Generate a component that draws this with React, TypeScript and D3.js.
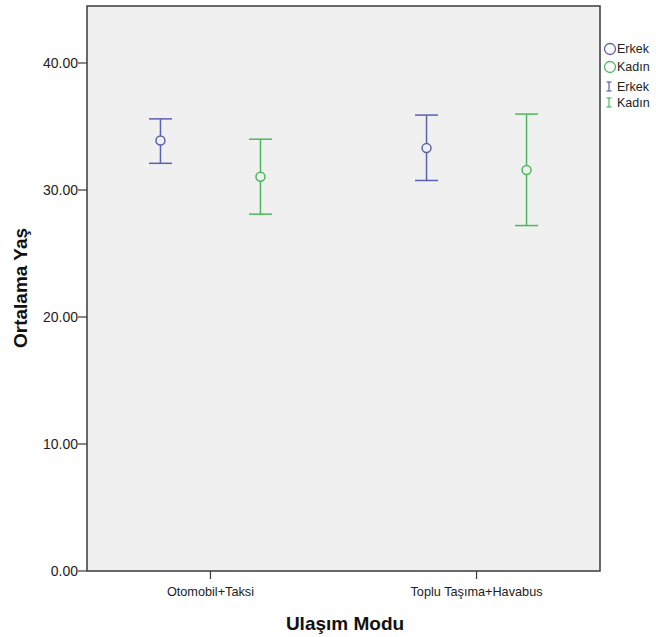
import * as d3 from 'd3';

const categories = ['Otomobil+Taksi', 'Toplu Taşıma+Havabus'];
const groups = ['Erkek', 'Kadın'];
const groupColors = ['#5a61b3', '#4cb85c'];

// means and 95% CI per category, one array per group
const erkekMean = [33.9, 33.3];
const erkekLow = [32.1, 30.75];
const erkekHigh = [35.6, 35.9];
const kadinMean = [31.05, 31.57];
const kadinLow = [28.1, 27.2];
const kadinHigh = [34.0, 35.98];

const yTicks = [0, 10, 20, 30, 40];

const series = [
  { name: groups[0], color: groupColors[0], mean: erkekMean, low: erkekLow, high: erkekHigh, offset: -50 },
  { name: groups[1], color: groupColors[1], mean: kadinMean, low: kadinLow, high: kadinHigh, offset: 50 },
];

const W = 656;
const H = 637;
const plot = { left: 87, right: 600, top: 6, bottom: 571 };
const font = '"Liberation Sans", Arial, sans-serif';

export default function App() {
  const x = d3.scalePoint<string>().domain(categories).range([plot.left, plot.right]).padding(0.464);
  const y = d3.scaleLinear().domain([0, 40]).range([plot.bottom, 63]);
  const cap = 11.5;

  return (
    <svg width={W} height={H} style={{ position: 'absolute', left: 0, top: 0, background: '#fff' }} fontFamily={font}>
      <rect x={plot.left} y={plot.top} width={plot.right - plot.left} height={plot.bottom - plot.top}
        fill="#f0f0f0" stroke="#3a3a3a" strokeWidth={1.5} />

      {/* y axis */}
      {yTicks.map(t => (
        <g key={t}>
          <line x1={plot.left - 9} x2={plot.left} y1={y(t)} y2={y(t)} stroke="#3a3a3a" strokeWidth={1.2} />
          <text x={plot.left - 9} y={y(t)} dy="0.35em" textAnchor="end" fontSize={14} fill="#222">{t.toFixed(2)}</text>
        </g>
      ))}

      {/* x axis */}
      {categories.map(c => (
        <g key={c}>
          <line x1={x(c)} x2={x(c)} y1={plot.bottom} y2={plot.bottom + 8} stroke="#3a3a3a" strokeWidth={1.2} />
          <text x={x(c)} y={plot.bottom + 25} textAnchor="middle" fontSize={12.7} fill="#222">{c}</text>
        </g>
      ))}

      <text x={345} y={630} textAnchor="middle" fontSize={19} fontWeight="bold" fill="#111">Ulaşım Modu</text>
      <text transform={`translate(27,${288}) rotate(-90)`} textAnchor="middle" fontSize={19} fontWeight="bold" fill="#111">Ortalama Yaş</text>

      {/* error bars and means */}
      {series.map(s => categories.map((c, i) => {
        const cx = (x(c) as number) + s.offset;
        return (
          <g key={s.name + c} stroke={s.color} strokeWidth={1.5} fill="none">
            <line x1={cx} x2={cx} y1={y(s.low[i])} y2={y(s.high[i])} />
            <line x1={cx - cap} x2={cx + cap} y1={y(s.high[i])} y2={y(s.high[i])} />
            <line x1={cx - cap} x2={cx + cap} y1={y(s.low[i])} y2={y(s.low[i])} />
            <circle cx={cx} cy={y(s.mean[i])} r={4.5} fill="#f0f0f0" />
          </g>
        );
      }))}

      {/* legend */}
      {series.map((s, i) => (
        <g key={'lc' + s.name}>
          <circle cx={610} cy={49 + i * 18} r={5.5} fill="none" stroke={s.color} strokeWidth={1.3} />
          <text x={617} y={49 + i * 18} dy="0.35em" fontSize={12.5} fill="#222">{s.name}</text>
        </g>
      ))}
      {series.map((s, i) => (
        <g key={'lb' + s.name} stroke={s.color} strokeWidth={1.2}>
          <line x1={609} x2={609} y1={82 + i * 16} y2={91 + i * 16} />
          <line x1={606.5} x2={611.5} y1={82 + i * 16} y2={82 + i * 16} />
          <line x1={606.5} x2={611.5} y1={91 + i * 16} y2={91 + i * 16} />
          <text x={617} y={86.5 + i * 16} dy="0.35em" fontSize={12.5} fill="#222" stroke="none">{s.name}</text>
        </g>
      ))}
    </svg>
  );
}
